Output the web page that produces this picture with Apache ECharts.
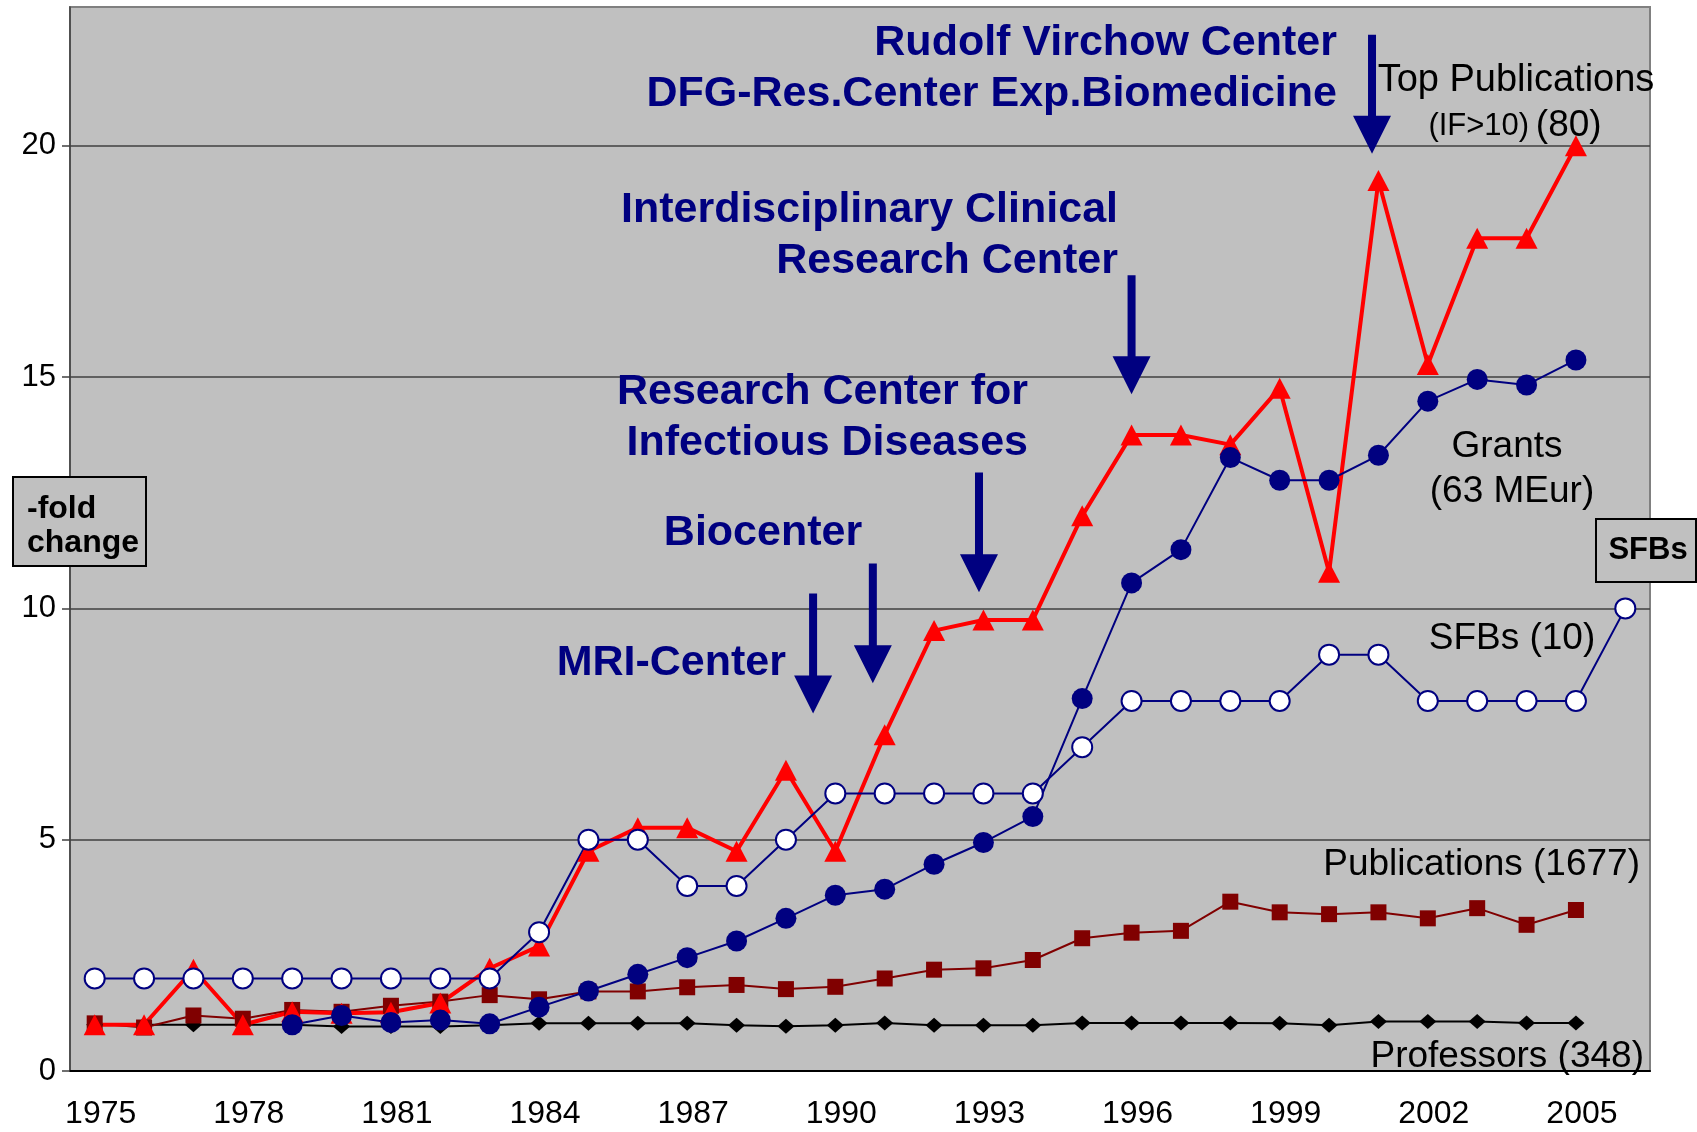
<!DOCTYPE html>
<html><head><meta charset="utf-8">
<script src="https://cdn.jsdelivr.net/npm/echarts@6/dist/echarts.min.js"></script>
<style>html,body{margin:0;padding:0;background:#fff}#c{width:1697px;height:1132px}</style>
</head><body><div id="c"></div>
<script>
const years = ['1975','1976','1977','1978','1979','1980','1981','1982','1983','1984','1985','1986','1987','1988','1989','1990','1991','1992','1993','1994','1995','1996','1997','1998','1999','2000','2001','2002','2003','2004','2005','2006'];
const yTicks = [0, 5, 10, 15, 20];
const professors = [1.0,1.0,1.0,1.0,1.0,0.96,0.96,0.96,0.99,1.03,1.03,1.03,1.03,0.99,0.97,0.99,1.04,0.99,0.99,0.99,1.04,1.04,1.04,1.04,1.03,0.99,1.07,1.07,1.07,1.04,1.04,null];
const publications = [1.03,0.94,1.2,1.13,1.32,1.28,1.41,1.5,1.64,1.55,1.72,1.72,1.81,1.86,1.77,1.82,2.0,2.19,2.22,2.4,2.87,2.99,3.03,3.66,3.43,3.39,3.43,3.3,3.52,3.16,3.48,null];
const topPublications = [1.0,1.0,2.2,1.0,1.28,1.25,1.27,1.47,2.22,2.7,4.75,5.26,5.26,4.75,6.5,4.75,7.27,9.52,9.75,9.75,12.0,13.75,13.75,13.54,14.76,10.78,19.25,15.27,18.0,18.0,20.0,null];
const grants = [null,null,null,null,1.0,1.2,1.05,1.1,1.02,1.38,1.73,2.09,2.45,2.81,3.3,3.8,3.93,4.47,4.94,5.5,8.05,10.55,11.27,13.26,12.77,12.77,13.31,14.48,14.95,14.83,15.37,null];
const sfbs = [2,2,2,2,2,2,2,2,2,3,5,5,4,4,5,6,6,6,6,6,7,8,8,8,8,9,9,8,8,8,8,10];

// arrows: position as fractional category index, top value, tip value
const arrows = [
  {idx: 25.87, top: 22.4, tip: 19.83},
  {idx: 21.0, top: 17.2, tip: 14.63},
  {idx: 17.91, top: 12.94, tip: 10.35},
  {idx: 15.76, top: 10.97, tip: 8.38},
  {idx: 14.55, top: 10.32, tip: 7.73}
];

const FONT = '"Liberation Sans", Arial, sans-serif';
const NAVY = '#000080';

const chart = echarts.init(document.getElementById('c'), null, {renderer: 'canvas'});

function lineSeries(name, data, color, symbol, size, width, extra) {
  return Object.assign({
    name, type: 'line', data, symbol, symbolSize: size,
    connectNulls: false,
    lineStyle: {color, width},
    itemStyle: {color, borderWidth: 0},
    emphasis: {disabled: true}
  }, extra || {});
}

chart.setOption({
  animation: false,
  backgroundColor: '#ffffff',
  textStyle: {fontFamily: FONT},
  grid: {left: 70, right: 47, top: 7, bottom: 61, show: true, backgroundColor: '#C0C0C0', borderColor: '#808080', borderWidth: 2},
  xAxis: {
    type: 'category', data: years, boundaryGap: true,
    axisLine: {lineStyle: {color: '#000', width: 2}},
    axisTick: {interval: 0, length: 10, lineStyle: {color: '#000', width: 1.5}},
    axisLabel: {interval: 2, fontSize: 32, color: '#000', margin: 27, padding: [0, 0, 0, 12], fontFamily: FONT},
    splitLine: {show: false}
  },
  yAxis: {
    type: 'value', min: 0, max: 23, interval: 5,
    axisLine: {show: true, lineStyle: {color: '#404040', width: 1.5}},
    axisTick: {show: true, length: 8, customValues: yTicks, lineStyle: {color: '#404040', width: 1.5}},
    axisLabel: {customValues: yTicks, fontSize: 31, color: '#000', margin: 14, fontFamily: FONT},
    splitLine: {lineStyle: {color: '#404040', width: 1.5}}
  },
  series: [
    lineSeries('Professors', professors, '#000000', 'diamond', [17, 15], 2),
    lineSeries('Publications', publications, '#800000', 'rect', 16, 2),
    lineSeries('Top Publications', topPublications, '#FF0000', 'triangle', [22, 21], 4),
    lineSeries('Grants', grants, NAVY, 'circle', 21, 2),
    lineSeries('SFBs', sfbs, NAVY, 'circle', 20, 2, {itemStyle: {color: '#ffffff', borderColor: NAVY, borderWidth: 2}})
  ]
});

function px(idx, val) {
  const a = chart.convertToPixel({xAxisIndex: 0, yAxisIndex: 0}, [Math.floor(idx), val]);
  const b = chart.convertToPixel({xAxisIndex: 0, yAxisIndex: 0}, [Math.floor(idx) + 1, val]);
  const f = idx - Math.floor(idx);
  return [a[0] + f * (b[0] - a[0]), a[1]];
}

const graphics = [];
arrows.forEach(a => {
  const t = px(a.idx, a.top), p = px(a.idx, a.tip);
  const x = t[0], hw = 19, sw = 4, hl = 38;
  graphics.push({type: 'polygon', silent: true, z: 100,
    shape: {points: [[x - sw, t[1]], [x + sw, t[1]], [x + sw, p[1] - hl], [x + hw, p[1] - hl], [x, p[1]], [x - hw, p[1] - hl], [x - sw, p[1] - hl]]},
    style: {fill: NAVY}});
});

function txt(text, x, y, align, font, fill) {
  graphics.push({type: 'text', silent: true, z: 100,
    style: {text, x, y, align, verticalAlign: 'middle', font, fill: fill || '#000'}});
}
const BOLD = 'bold 43px ' + FONT;
txt('Rudolf Virchow Center', 1337, 43, 'right', BOLD, NAVY);
txt('DFG-Res.Center Exp.Biomedicine', 1337, 94, 'right', BOLD, NAVY);
txt('Interdisciplinary Clinical', 1118, 210, 'right', BOLD, NAVY);
txt('Research Center', 1118, 261, 'right', BOLD, NAVY);
txt('Research Center for', 1028, 392, 'right', BOLD, NAVY);
txt('Infectious Diseases', 1028, 443, 'right', BOLD, NAVY);
txt('Biocenter', 763, 533, 'center', BOLD, NAVY);
txt('MRI-Center', 786, 663, 'right', BOLD, NAVY);

const REG = '37px ' + FONT;
txt('Top Publications', 1516, 81, 'center', '38px ' + FONT);
graphics.push({type: 'text', silent: true, z: 100,
  style: {text: '{s|(IF>10)}  {b|(80)}', x: 1515, y: 126, align: 'center', verticalAlign: 'middle',
    rich: {s: {font: '31px ' + FONT, fill: '#000'}, b: {font: '37px ' + FONT, fill: '#000'}}}});
txt('Grants', 1507, 447, 'center', REG);
txt('(63 MEur)', 1512, 492, 'center', REG);
txt('SFBs (10)', 1512, 639, 'center', REG);
txt('Publications (1677)', 1640, 865, 'right', REG);
txt('Professors (348)', 1644, 1057, 'right', REG);

// boxes
graphics.push({type: 'rect', silent: true, z: 100, shape: {x: 13, y: 477, width: 133, height: 89},
  style: {fill: '#C0C0C0', stroke: '#000', lineWidth: 2}});
txt('-fold', 27, 509, 'left', 'bold 32px ' + FONT);
txt('change', 27, 543, 'left', 'bold 32px ' + FONT);
graphics.push({type: 'rect', silent: true, z: 100, shape: {x: 1596, y: 519, width: 100, height: 63},
  style: {fill: '#C0C0C0', stroke: '#000', lineWidth: 2}});
txt('SFBs', 1648, 550, 'center', 'bold 31px ' + FONT);

chart.setOption({graphic: graphics});
</script></body></html>
